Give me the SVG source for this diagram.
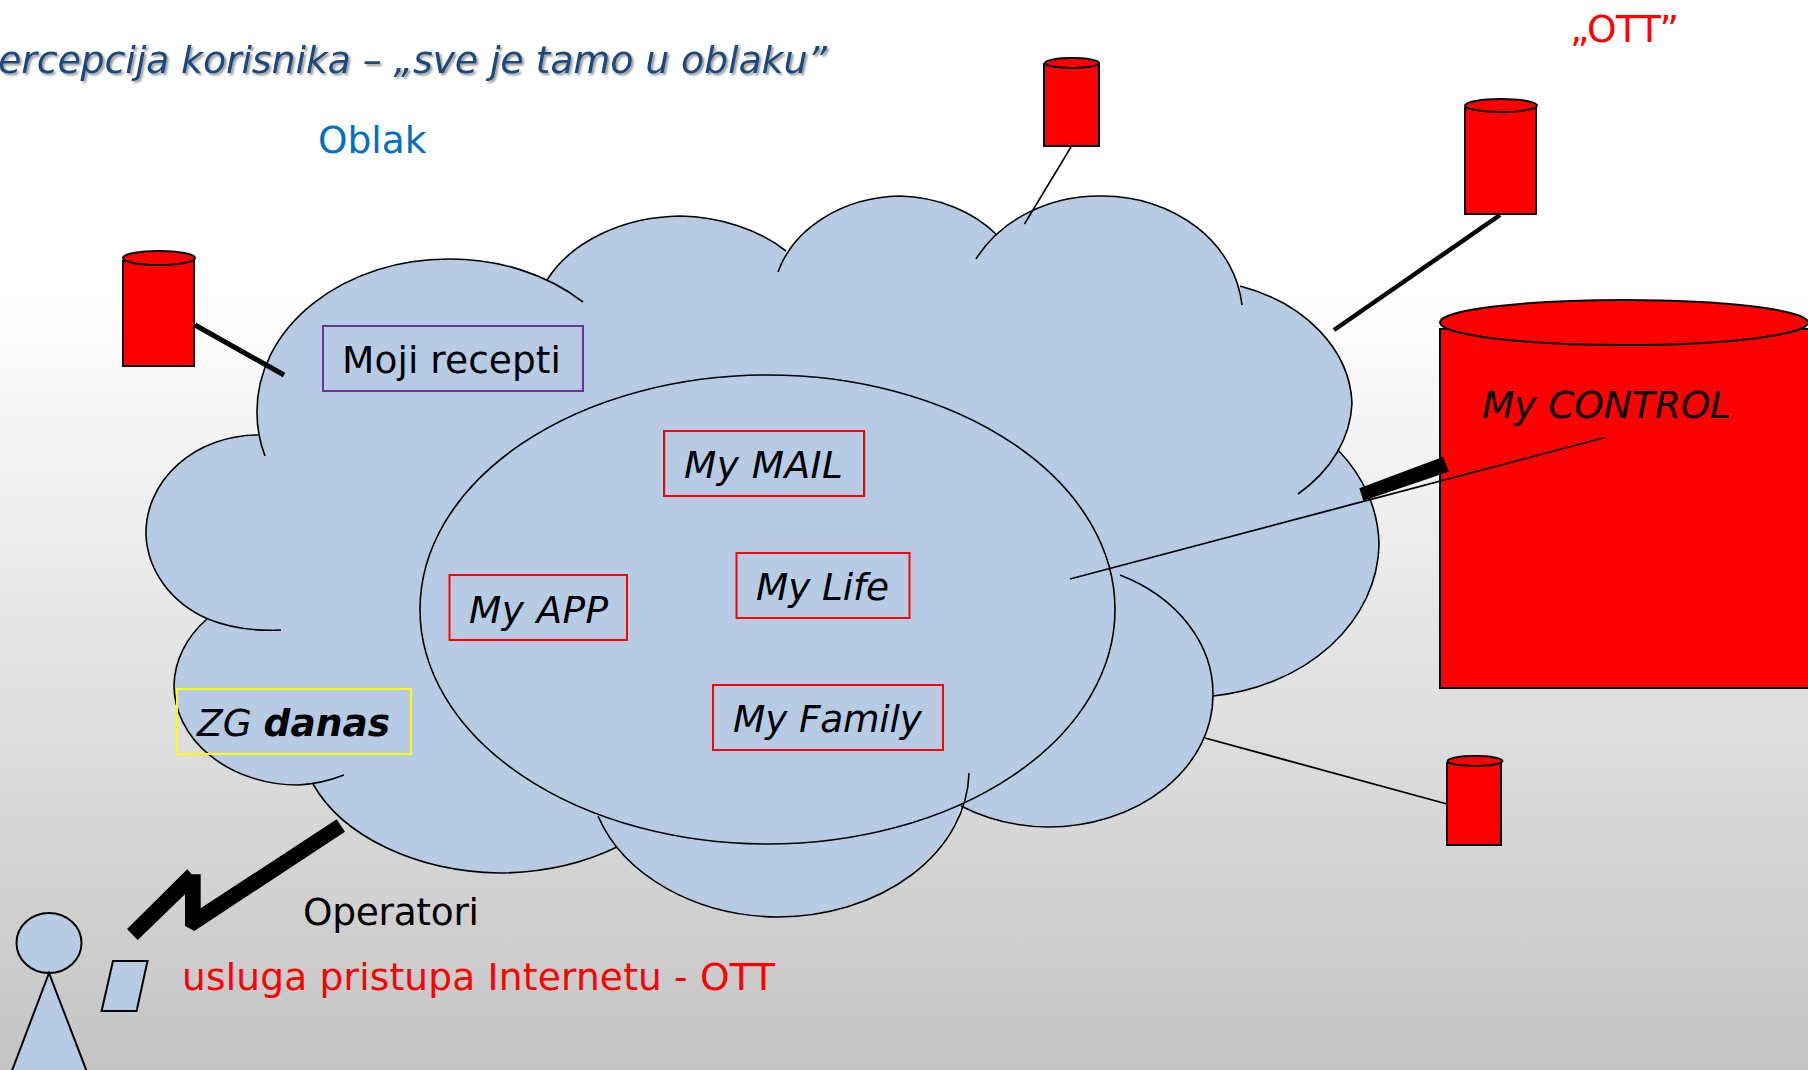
<svg xmlns="http://www.w3.org/2000/svg" width="1808" height="1070" viewBox="0 0 1808 1070">
<style>
text{font-family:"DejaVu Sans","Verdana",sans-serif;font-size:37.5px;fill:#000}
.i{font-style:italic}
.cyl{fill:#f00;stroke:#000;stroke-width:2}
.arc{fill:none;stroke:#000;stroke-width:1.6}
.blue{fill:#b7cce4}
.box{fill:none;stroke:#f00;stroke-width:2}
</style>
<defs>
<linearGradient id="bg" x1="0" y1="0" x2="0" y2="1"><stop offset="0.27" stop-color="#fff"/><stop offset="1" stop-color="#c4c4c4"/></linearGradient>
<filter id="sh" x="-5%" y="-30%" width="110%" height="160%"><feDropShadow dx="2" dy="2" stdDeviation="1" flood-color="#000" flood-opacity="0.4"/></filter>
</defs>
<rect width="1808" height="1070" fill="url(#bg)"/>
<text id="title" class="i" x="-2" y="73" textLength="829" style="fill:#1f497d;font-size:38px" filter="url(#sh)">ercepcija korisnika – „sve je tamo u oblaku”</text>
<text id="oblak" x="318" y="153" style="fill:#0070c0">Oblak</text>
<text id="ott" x="1570" y="42" textLength="109" style="fill:#f00">„OTT”</text>
<g id="cloud">
<path class="blue" d="M265 456A191 152 0 0 1 257 411A191 152 0 0 1 448 259A191 152 0 0 1 583 302L547 280A150 110 0 0 1 680 216A150 110 0 0 1 786 251L778 272A130 105 0 0 1 900 196A130 105 0 0 1 997 235L976 259A140 120 0 0 1 1103 196A140 120 0 0 1 1242 305L1240 286A165 128 0 0 1 1352 403A165 128 0 0 1 1298 494L1338 450A190 155 0 0 1 1379 545A190 155 0 0 1 1213 696A165 132 0 0 1 1048 827A165 132 0 0 1 961 806A192 147 0 0 1 778 917A192 147 0 0 1 598 816L617 847A205 138 0 0 1 499 873A205 138 0 0 1 313 784L298 785A124 100 0 0 1 174 685A124 100 0 0 1 207 619L208 619A112 98 0 0 1 146 535A112 98 0 0 1 258 435Z"/>
<polygon class="blue" points="258 435 583 302 997 235 1298 494 1213 696 961 806 598 816 313 784 207 619"/>
<ellipse class="blue" cx="767.5" cy="609.5" rx="347.5" ry="234.5" stroke="#000" stroke-width="1.6"/>
<path class="arc" d="M265 456A191 152 0 0 1 257 411A191 152 0 0 1 448 259A191 152 0 0 1 583 302"/>
<path class="arc" d="M547 280A150 110 0 0 1 680 216A150 110 0 0 1 786 251"/>
<path class="arc" d="M778 272A130 105 0 0 1 900 196A130 105 0 0 1 997 235"/>
<path class="arc" d="M976 259A140 120 0 0 1 1103 196A140 120 0 0 1 1242 305"/>
<path class="arc" d="M1240 286A165 128 0 0 1 1352 403A165 128 0 0 1 1298 494"/>
<path class="arc" d="M1338 450A190 155 0 0 1 1379 545A190 155 0 0 1 1213 696"/>
<path class="arc" d="M1120 575A165 132 0 0 1 1213 695A165 132 0 0 1 1048 827A165 132 0 0 1 961 806"/>
<path class="arc" d="M969 773A192 147 0 0 1 778 917A192 147 0 0 1 598 816"/>
<path class="arc" d="M617 847A205 138 0 0 1 499 873A205 138 0 0 1 313 784"/>
<path class="arc" d="M344 775A124 100 0 0 1 298 785A124 100 0 0 1 174 685A124 100 0 0 1 207 619"/>
<path class="arc" d="M281 630Q240 632 208 619A112 98 0 0 1 146 535A112 98 0 0 1 258 435"/>
</g>
<g id="cyl1"><rect class="cyl" x="123" y="261" width="71" height="105"/><ellipse class="cyl" cx="159" cy="258" rx="36" ry="7"/></g>
<g id="cyl2"><rect class="cyl" x="1044" y="64" width="55" height="82"/><ellipse class="cyl" cx="1072" cy="63" rx="27" ry="5"/></g>
<g id="cyl3"><rect class="cyl" x="1465" y="108" width="71" height="106"/><ellipse class="cyl" cx="1501" cy="105.500" rx="36" ry="6.500"/></g>
<g id="cyl4"><rect class="cyl" x="1440" y="329" width="400" height="359"/><ellipse class="cyl" cx="1624" cy="322.500" rx="184" ry="22.500"/></g>
<g id="cyl5"><rect class="cyl" x="1447" y="763" width="54" height="82"/><ellipse class="cyl" cx="1475" cy="761" rx="27.500" ry="5"/></g>
<g id="connectors" stroke="#000" fill="none">
<line x1="195" y1="325" x2="284" y2="375" stroke-width="5"/>
<line x1="1071" y1="147" x2="1024.500" y2="224" stroke-width="1.600"/>
<line x1="1500" y1="215" x2="1334" y2="330" stroke-width="4.500"/>
<line x1="1205" y1="738" x2="1447" y2="804" stroke-width="1.800"/>
<line x1="1070" y1="579" x2="1605" y2="437.500" stroke-width="1.800"/>
<polygon points="1359.300 488.300 1443.300 456.700 1448.700 471.700 1363.300 500.700" fill="#000" stroke="none"/>
<polygon points="336.700 819.300 345 831.700 194.300 931 185 926 185 894.300 137.700 940 127 929 187.300 869.300 191.700 874.300 200.700 874.300 200.700 908.300" fill="#000" stroke="none"/>
</g>
<g id="moji"><rect x="323" y="326" width="260" height="65" fill="none" stroke="#7030a0" stroke-width="2"/><text x="342" y="373" textLength="219">Moji recepti</text></g>
<g id="mail"><rect class="box" x="664" y="431" width="200" height="65"/><text class="i" x="684" y="478" textLength="159">My MAIL</text></g>
<g id="app"><rect class="box" x="449.500" y="575" width="177.500" height="65"/><text class="i" x="469" y="623" textLength="139">My APP</text></g>
<g id="life"><rect class="box" x="736.500" y="553" width="173" height="65"/><text class="i" x="756" y="600" textLength="133">My Life</text></g>
<g id="family"><rect class="box" x="713" y="685" width="230" height="65"/><text class="i" x="733" y="732" textLength="189">My Family</text></g>
<g id="zg"><rect x="177" y="689" width="234" height="65" fill="none" stroke="#ff0" stroke-width="2"/><text class="i" x="197" y="736" textLength="193">ZG <tspan font-weight="bold">danas</tspan></text></g>
<text id="control" class="i" x="1482" y="418" textLength="249">My CONTROL</text>
<g id="person"><ellipse class="blue" cx="49" cy="943" rx="32.500" ry="30" stroke="#000" stroke-width="2"/><polygon class="blue" points="49 973 11.500 1072 87 1072" stroke="#000" stroke-width="2"/></g>
<polygon id="device" class="blue" points="113 961 147.500 961 136.600 1011 101.600 1011" stroke="#000" stroke-width="2"/>
<text id="operatori" x="303" y="925" textLength="176">Operatori</text>
<text id="usluga" x="182" y="990" textLength="593" style="fill:#f00">usluga pristupa Internetu - OTT</text>
</svg>
